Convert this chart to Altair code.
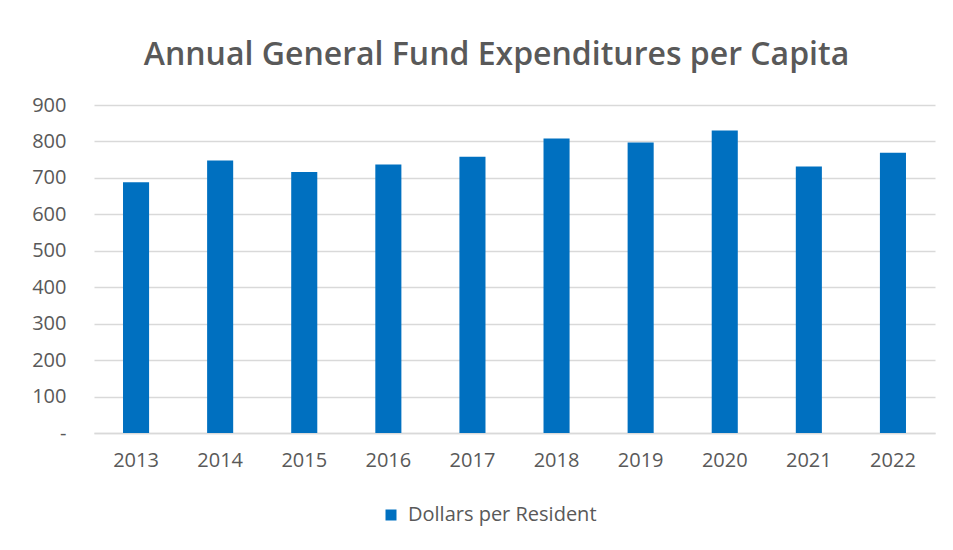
import altair as alt
import pandas as pd

years = ["2013", "2014", "2015", "2016", "2017", "2018", "2019", "2020", "2021", "2022"]
dollars = [688, 748, 716, 737, 758, 808, 797, 830, 731, 769]
series_name = "Dollars per Resident"
y_ticks = [0, 100, 200, 300, 400, 500, 600, 700, 800, 900]

df = pd.DataFrame({"Year": years, "Value": dollars, "Series": [series_name] * len(years)})

FONT = "Open Sans"
GRAY = "#595959"

chart = (
    alt.Chart(df)
    .mark_bar(color="#0070C0")
    .encode(
        x=alt.X(
            "Year:N",
            sort=years,
            title=None,
            scale=alt.Scale(paddingInner=0.69, paddingOuter=0.345),
            axis=alt.Axis(
                labelAngle=0,
                labelFontSize=20,
                labelColor=GRAY,
                labelFont=FONT,
                ticks=False,
                tickSize=0,
                labelPadding=17,
                domainColor="#d9d9d9",
                domainWidth=1.5,
            ),
        ),
        y=alt.Y(
            "Value:Q",
            title=None,
            scale=alt.Scale(domain=[0, 900], nice=False),
            axis=alt.Axis(
                values=y_ticks,
                labelExpr="datum.value == 0 ? '-' : datum.label",
                labelFontSize=20,
                labelColor=GRAY,
                labelFont=FONT,
                ticks=False,
                tickSize=0,
                domain=False,
                labelPadding=28,
                minExtent=81,
                maxExtent=81,
                gridColor="#d9d9d9",
                gridWidth=1.5,
            ),
        ),
        color=alt.Color(
            "Series:N",
            scale=alt.Scale(domain=[series_name], range=["#0070C0"]),
            legend=alt.Legend(
                title=None,
                orient="none",
                legendX=287,
                legendY=400,
                symbolType="square",
                symbolSize=121,
                symbolStrokeWidth=0,
                labelFontSize=20,
                labelColor=GRAY,
                labelFont=FONT,
                labelOffset=7,
                labelLimit=0,
                padding=0,
            ),
        ),
    )
    .properties(
        width=841,
        height=328,
        title=alt.TitleParams(
            "Annual General Fund Expenditures per Capita",
            fontSize=32,
            fontWeight=600,
            color=GRAY,
            font=FONT,
            anchor="middle",
            dx=-18,
            offset=23,
        ),
        padding={"left": 5, "top": 31, "right": 5, "bottom": 5},
    )
    .configure_view(stroke=None)
)

chart.save("out.html", embed_options={"renderer": "svg", "actions": False})
